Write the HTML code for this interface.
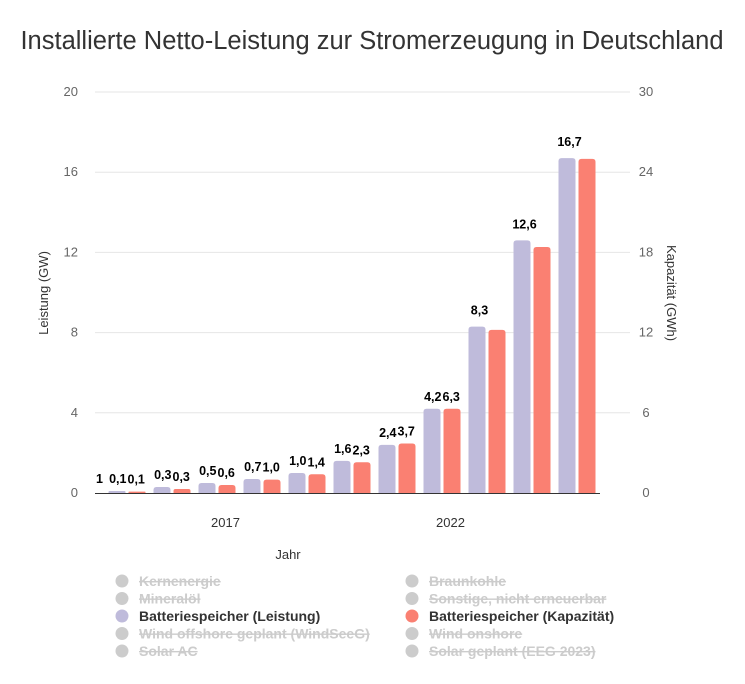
<!DOCTYPE html>
<html><head><meta charset="utf-8">
<style>
body{margin:0;background:#fff;font-family:"Liberation Sans",sans-serif;}
svg text{font-family:"Liberation Sans",sans-serif;}
</style></head>
<body>
<svg id="chart" width="745" height="679" viewBox="0 0 745 679">
<text x="372" y="49" text-anchor="middle" font-size="25.5" fill="#333">Installierte Netto-Leistung zur Stromerzeugung in Deutschland</text>
<g id="grid"></g>
<g id="bars"></g>
<g id="labels"></g>
<g id="axes"></g>
<text transform="translate(48,293) rotate(-90)" text-anchor="middle" font-size="13" fill="#333">Leistung (GW)</text>
<text transform="translate(667,293) rotate(90)" text-anchor="middle" font-size="13" fill="#333">Kapazität (GWh)</text>
<text x="288" y="559" text-anchor="middle" font-size="13" fill="#333">Jahr</text>
<g id="legend"></g>
</svg>
<script>
const categories = [2015,2016,2017,2018,2019,2020,2021,2022,2023,2024,2025];
const leistung = [0.1,0.3,0.5,0.7,1.0,1.6,2.4,4.2,8.3,12.6,16.7];
const kapazitaet = [0.1,0.3,0.6,1.0,1.4,2.3,3.7,6.3,12.2,18.4,25.0];
const leistungLabels = ["0,1","0,3","0,5","0,7","1,0","1,6","2,4","4,2","8,3","12,6","16,7"];
const kapazitaetLabels = ["0,1","0,3","0,6","1,0","1,4","2,3","3,7","6,3","","",""];
const leftTicks = [0,4,8,12,16,20];
const rightTicks = [0,6,12,18,24,30];
const xTickYears = [2017,2022];

const NS="http://www.w3.org/2000/svg";
const x0=95,x1=600,yTop=92,yBot=493;
const step=45,first=127.5;
function xScale(i){return first+step*i;}
function yL(v){return yBot-(v/20)*(yBot-yTop);}
function yR(v){return yBot-(v/30)*(yBot-yTop);}
function mk(tag,attrs,parent){const e=document.createElementNS(NS,tag);for(const k in attrs)e.setAttribute(k,attrs[k]);parent.appendChild(e);return e;}
const grid=document.getElementById('grid'),bars=document.getElementById('bars'),labels=document.getElementById('labels'),axes=document.getElementById('axes'),legend=document.getElementById('legend');

leftTicks.forEach((t,i)=>{
  const y=yL(t);
  if(t>0){const l=mk('line',{x1:x0,x2:630,y1:y,y2:y,stroke:'#e6e6e6','stroke-width':1},grid);
  
  }
  const tx=mk('text',{x:78,y:y+4,'text-anchor':'end','font-size':13,fill:'#666'},axes);tx.textContent=t;
  
  
});
rightTicks.forEach(t=>{
  const y=yR(t);
  const tx=mk('text',{x:646,y:y+4,'text-anchor':'middle','font-size':13,fill:'#666'},axes);tx.textContent=t;
  
  
});
const base=mk('line',{x1:x0,x2:x1,y1:yBot+0.5,y2:yBot+0.5,stroke:'#333','stroke-width':1},axes);


xTickYears.forEach(yr=>{
  const i=categories.indexOf(yr);
  const tx=mk('text',{x:xScale(i)+8,y:527,'text-anchor':'middle','font-size':13,fill:'#333'},axes);tx.textContent=yr;
  
  
});

function rbar(x,y,w,h,fill){
  const r=Math.min(3,h/2);
  const d=`M${x},${y+h}L${x},${y+r}Q${x},${y} ${x+r},${y}L${x+w-r},${y}Q${x+w},${y} ${x+w},${y+r}L${x+w},${y+h}Z`;
  return mk('path',{d:d,fill:fill},bars);
}
categories.forEach((c,i)=>{
  const cx=xScale(i);
  const yp=yL(leistung[i]), yr=yR(kapazitaet[i]);
  const b1=rbar(cx-19,yp,17,yBot-yp,'#bfbbdb');
  
  
  const b2=rbar(cx+1,yr,17,yBot-yr,'#fa8072');
  
  
  if(kapazitaetLabels[i]){
    const t1=mk('text',{x:cx-1,y:yp-8,'text-anchor':'end','font-size':12.5,'font-weight':'bold',fill:'#000'},labels);t1.textContent=leistungLabels[i];
    
    
    const t2=mk('text',{x:cx,y:yr-8,'text-anchor':'start','font-size':12.5,'font-weight':'bold',fill:'#000'},labels);t2.textContent=kapazitaetLabels[i];
    
    
  } else {
    const t1=mk('text',{x:cx-8,y:Math.min(yp,yr)-12,'text-anchor':'middle','font-size':12.5,'font-weight':'bold',fill:'#000'},labels);t1.textContent=leistungLabels[i];
    
    
  }
});
const clip=mk('text',{x:96,y:yL(0.1)-8,'font-size':12.5,'font-weight':'bold',fill:'#000'},labels);clip.textContent="1";



const legendItems=[
 ["Kernenergie",0,0,false,'#ccc'],["Braunkohle",1,0,false,'#ccc'],
 ["Mineralöl",0,1,false,'#ccc'],["Sonstige, nicht erneuerbar",1,1,false,'#ccc'],
 ["Batteriespeicher (Leistung)",0,2,true,'#bfbbdb'],["Batteriespeicher (Kapazität)",1,2,true,'#fa8072'],
 ["Wind offshore geplant (WindSeeG)",0,3,false,'#ccc'],["Wind onshore",1,3,false,'#ccc'],
 ["Solar AC",0,4,false,'#ccc'],["Solar geplant (EEG 2023)",1,4,false,'#ccc']];
legendItems.forEach(it=>{
  const gx=it[1]?412:122, gy=581+it[2]*17.5;
  const g=mk('g',{},legend);
  
  
  mk('circle',{cx:gx,cy:gy,r:6.5,fill:it[4]},g);
  const t=mk('text',{x:gx+17,y:gy+5,'font-size':14,'font-weight':'bold',fill:it[3]?'#333':'#ccc','text-decoration':it[3]?'none':'line-through'},g);
  t.textContent=it[0];
});
</script>
</body></html>
